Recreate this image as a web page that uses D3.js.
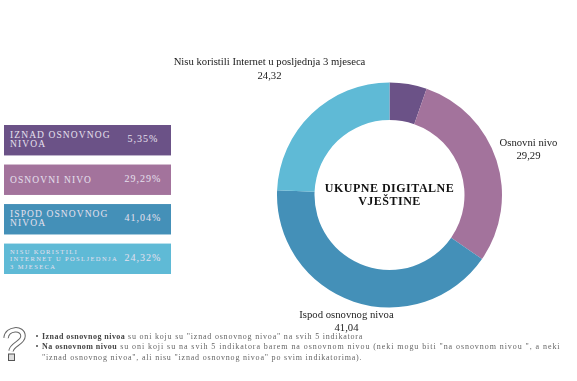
<!DOCTYPE html>
<html lang="bs">
<head>
    <meta charset="UTF-8">
    <script src="https://d3js.org/d3.v7.min.js"></script>
    <title>Ukupne digitalne vještine</title>
    <style>
        html, body { margin: 0; padding: 0; background: #fff; }
        svg { display: block; filter: blur(0.35px); }
        text { font-family: "Liberation Serif", serif; }
    </style>
</head>
<body>
    <div id="canvas"></div>
    <script>
        var categories = ["Iznad osnovnog nivoa", "Osnovni nivo", "Ispod osnovnog nivoa", "Nisu koristili Internet u posljednja 3 mjeseca"];
        var values = [5.35, 29.29, 41.04, 24.32];
        var colors = ["#6b5287", "#a3739c", "#4490b8", "#5fbad6"];
        var legendLines = [["IZNAD OSNOVNOG", "NIVOA"], ["OSNOVNI NIVO"], ["ISPOD OSNOVNOG", "NIVOA"], ["NISU KORISTILI", "INTERNET U POSLJEDNJA", "3 MJESECA"]];
        var legendValues = ["5,35%", "29,29%", "41,04%", "24,32%"];

        var width = 577, height = 381;
        var fmt = function(v) { return String(v).replace(".", ","); };

        var svg = d3.select("#canvas").append("svg")
            .attr("width", width)
            .attr("height", height);

        // donut
        var pie = d3.pie().sort(null).value(function(d) { return d; });
        var arc = d3.arc().innerRadius(75).outerRadius(112.5);
        var donut = svg.append("g").attr("transform", "translate(389.5,195)");
        donut.selectAll("path")
            .data(pie(values))
            .enter().append("path")
            .attr("d", arc)
            .attr("fill", function(d, i) { return colors[i]; });

        // centre title
        donut.selectAll("text.title")
            .data(["UKUPNE DIGITALNE", "VJEŠTINE"])
            .enter().append("text")
            .attr("class", "title")
            .attr("y", function(d, i) { return -3 + i * 13; })
            .attr("text-anchor", "middle")
            .attr("font-size", 12)
            .attr("font-weight", "bold")
            .attr("letter-spacing", 0.5)
            .attr("fill", "#111")
            .text(function(d) { return d; });

        // labels round the donut
        var labelPos = [
            { i: 3, x: 269.5, y1: 65, y2: 79 },
            { i: 1, x: 528.5, y1: 146, y2: 159 },
            { i: 2, x: 346.5, y1: 318, y2: 331 }
        ];
        labelPos.forEach(function(p) {
            svg.append("text").attr("x", p.x).attr("y", p.y1)
                .attr("text-anchor", "middle").attr("font-size", 10.7).attr("fill", "#222")
                .text(categories[p.i]);
            svg.append("text").attr("x", p.x).attr("y", p.y2)
                .attr("text-anchor", "middle").attr("font-size", 10.7).attr("fill", "#222")
                .text(fmt(values[p.i]));
        });

        // legend boxes
        var legendY = d3.scaleBand().domain(d3.range(4)).range([125, 274]).paddingInner(0.23);
        var rows = svg.selectAll("g.row")
            .data(categories)
            .enter().append("g")
            .attr("class", "row")
            .attr("transform", function(d, i) { return "translate(4," + legendY(i) + ")"; });
        rows.append("rect")
            .attr("width", 167)
            .attr("height", legendY.bandwidth())
            .attr("fill", function(d, i) { return colors[i]; });
        rows.each(function(d, i) {
            var g = d3.select(this);
            var lines = legendLines[i];
            var small = lines.length === 3;
            var step = small ? 7.5 : 9;
            var y0 = small ? 10 : (lines.length === 2 ? 13 : 18);
            lines.forEach(function(t, k) {
                g.append("text")
                    .attr("x", 6)
                    .attr("y", y0 + k * step)
                    .attr("font-size", small ? 6.5 : 9.5)
                    .attr("letter-spacing", small ? 1.4 : 1.1)
                    .attr("fill", "#e6e0ee")
                    .text(t);
            });
            g.append("text")
                .attr("x", 139)
                .attr("y", 17)
                .attr("text-anchor", "middle")
                .attr("font-size", 10)
                .attr("letter-spacing", 1)
                .attr("fill", "#e6e0ee")
                .text(legendValues[i]);
        });

        // notes at the bottom
        var notes = [
            { y: 339, x: 42, sp: 0.8, bold: "Iznad osnovnog nivoa", rest: " su oni koju su \"iznad osnovnog nivoa\" na svih 5 indikatora" },
            { y: 349, x: 42, sp: 0.93, bold: "Na osnovnom nivou", rest: " su oni koji su na svih 5 indikatora barem na osnovnom nivou (neki mogu biti \"na osnovnom nivou \", a neki" },
            { y: 360, x: 42, sp: 0.8, bold: "", rest: "\"iznad osnovnog nivoa\", ali nisu \"iznad osnovnog nivoa\" po svim indikatorima)." }
        ];
        notes.forEach(function(n) {
            var t = svg.append("text").attr("x", n.x).attr("y", n.y)
                .attr("font-size", 8).attr("letter-spacing", n.sp).attr("fill", "#666");
            if (n.bold) {
                t.append("tspan").attr("font-weight", "bold").attr("letter-spacing", 0.45).attr("fill", "#444").text(n.bold);
            }
            t.append("tspan").text(n.rest);
            if (n.bold) {
                svg.append("rect").attr("x", 36).attr("y", n.y - 4).attr("width", 2).attr("height", 2).attr("fill", "#777");
            }
        });

        // question mark icon
        var icon = "M6,338 C7,328 23,327 23,336 C23,343 12,344 11,351";
        svg.append("path").attr("d", icon).attr("fill", "none").attr("stroke", "#666").attr("stroke-width", 5.5);
        svg.append("path").attr("d", icon).attr("fill", "none").attr("stroke", "#fff").attr("stroke-width", 3.5);
        svg.append("rect").attr("x", 8.5).attr("y", 354).attr("width", 6).attr("height", 6.5)
            .attr("fill", "#ddd").attr("stroke", "#555");
    </script>
</body>
</html>
